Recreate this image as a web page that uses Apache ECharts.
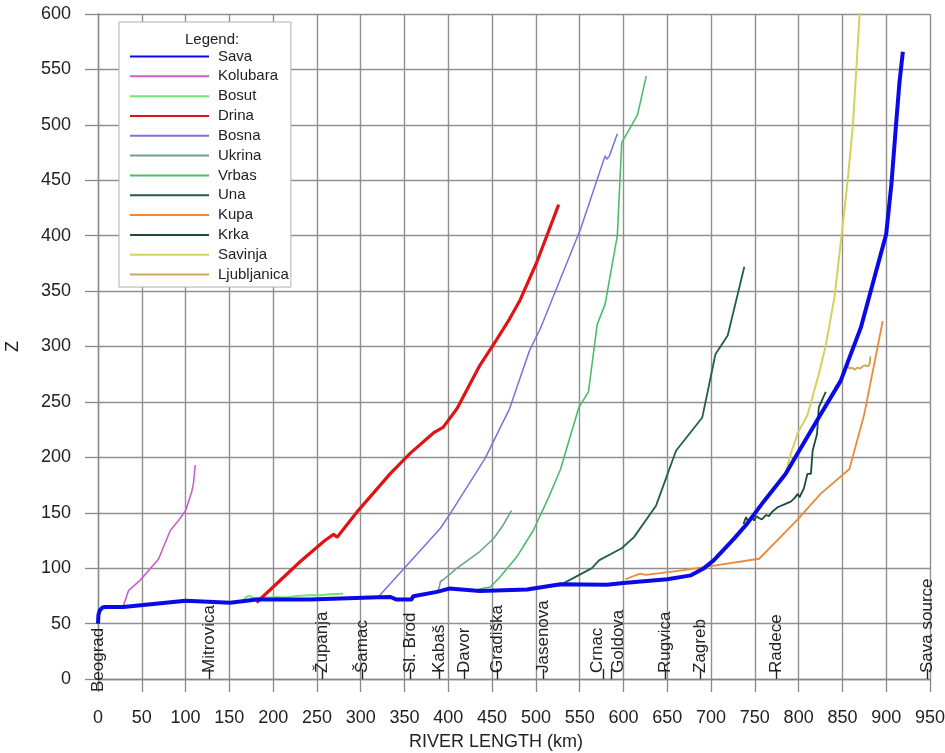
<!DOCTYPE html>
<html>
<head>
<meta charset="utf-8">
<script src="https://cdn.jsdelivr.net/npm/echarts@6/dist/echarts.min.js"></script>
<style>html,body{margin:0;padding:0;background:#fff}#c{width:945px;height:753px}</style>
</head>
<body>
<div id="c"></div>
<script>
// ---- data (km, elevation Z) ----
const sava = [[0,50],[0.5,58],[2,62],[5,64.5],[8,65],[29,65],[100,70.5],[151,68.7],[181,71.7],[242,71.7],[320,73.8],[334,74],[341,71.7],[358,71.7],[360,74.7],[387,78.6],[401,81.6],[436,79.5],[490,80.7],[528,85.5],[581,85],[600,86.6],[650,90],[677,93.5],[692,100],[703,107],[726,126.4],[741,140],[760,160],[785,185],[823,236],[848,269],[871,317],[900,401.5],[906,447],[911,498],[915,537],[919,566]];
const kolubara = [[28.5,65],[35,80],[48,89],[69,108],[82.5,134],[92,143],[100,152],[107,169],[109,176.5],[111,193]];
const bosut = [[166,70],[169,74],[173,75],[178,73],[185,72.6],[195,73.5],[204,74],[215,73.5],[228,75],[242,75.6],[255,75.5],[265,76.5],[280,77]];
const drina = [[181,69],[200,83],[231,106],[259,125],[269,130.5],[273,128],[296,151],[334,185.5],[357,204],[383,222],[394,227],[410,244],[436,283],[455,306],[470,325],[482,342],[501,376],[526,428]];
const bosna = [[320,74],[391,136],[402,149],[442,199],[470,244],[493,297],[505,316],[551,406],[579,472],[581,469],[584,472],[593,492]];
const ukrina = [[388,79],[390,84],[391,88],[395,90],[410,100],[436,115],[452,127],[462,138],[472,152]];
const vrbas = [[434,81],[448,83],[459,92],[478,110],[497,134],[514,163],[528,189],[549,245],[560,259],[570,320],[579,338],[593,400],[598,484],[616,509],[626,544]];
const una = [[526,84],[564,100],[572,107],[598,118],[612,128],[637,156],[660,206],[690,236],[705,293],[719,310],[738,372]];
const kupa = [[602,90],[619,95],[625,94],[663,97.5],[692,101],[755,108.5],[799,144],[825,167],[858,189.5],[875,239],[896,323]];
const krka = [[737,140],[740,146],[743,141],[746,147],[749,143],[752,147],[755,145],[758,144],[763,148],[766,147],[770,151],[776,155],[785,158],[791,160],[795,163],[799,167],[801,164],[806,172],[810,185],[814,185],[816,206],[821,221],[823,245],[831,259]];
const savinja = [[785,185],[791,203],[799,222],[810,238],[823,275],[831,301],[841,345],[849,400],[856,450],[862,500],[866,552],[870,605]];
const ljubljanica = [[841,262],[844,265],[847,268],[850,273],[853,280],[856,283],[858,280],[861,281],[864,279],[867,281],[870,280],[873,282],[876,283],[879,282],[881,284],[882,291]];

// towns along the Sava: tick position (km) and label position (km)
const towns = ['Beograd','Mitrovica','Županja','Šamac','Sl. Brod','Kabaš','Davor','Gradiška','Jasenova','Crnac','Goldova','Rugvica','Zagreb','Radece','Sava source'];
const townKm = [0,127,256,302,357,390,418,456,508,577,586,648,688,774,947];
const townLabelKm = [0,127,256,302,357,390,418,456,508,570,594,648,688,774,947];

const names = ['Sava','Kolubara','Bosut','Drina','Bosna','Ukrina','Vrbas','Una','Kupa','Krka','Savinja','Ljubljanica'];
const datasets = [sava,kolubara,bosut,drina,bosna,ukrina,vrbas,una,kupa,krka,savinja,ljubljanica];
const colors = ['#0a0ae6','#cc5fcc','#6ee66e','#e01414','#7474dc','#6f9f9c','#4cbc6c','#22603f','#ec8a3a','#1c4a3c','#d2d25c','#cfa85a'];
const widths = [4,1.6,2,3.2,1.5,1.6,1.6,1.8,1.8,1.8,2,2];

const FONT = 'Liberation Sans, Arial, sans-serif';
const chart = echarts.init(document.getElementById('c'));

const series = names.map((n,i)=>({
  name:n, type:'line', data:datasets[i], symbol:'none', smooth:false,
  z: i===0 ? 5 : 3,
  lineStyle:{color:colors[i], width:widths[i]}, itemStyle:{color:colors[i]},
  animation:false, clip:true
}));

const labelFor = function(v){
  const i = townLabelKm.indexOf(v);
  return i < 0 ? '' : towns[i];
};

chart.setOption({
  animation:false,
  backgroundColor:'#fff',
  title:{text:'Legend:', left:185, top:32, padding:0,
    textStyle:{fontFamily:FONT, fontSize:15, fontWeight:'normal', color:'#222'}},
  legend:{
    orient:'vertical', left:119, top:22,
    padding:[27,2,5,10], itemGap:4.82, itemWidth:79, itemHeight:14,
    backgroundColor:'#fff', borderColor:'#b0b0b0', borderWidth:1,
    itemStyle:{opacity:0, borderWidth:0},
    textStyle:{fontFamily:FONT, fontSize:15, color:'#222', padding:[0,0,0,4]},
    data:names
  },
  grid:{left:98, right:15, top:14, bottom:74, containLabel:false, outerBoundsMode:'none'},
  xAxis:[{
    type:'value', min:0, max:950, interval:50, position:'bottom',
    name:'RIVER LENGTH (km)', nameLocation:'middle', nameGap:54,
    nameTextStyle:{fontFamily:FONT, fontSize:18, color:'#222', padding:[0,36,0,0]},
    axisLine:{show:true, onZero:false, lineStyle:{color:'#888', width:1.3}},
    axisTick:{show:true, length:13, lineStyle:{color:'#888', width:1.3}},
    axisLabel:{fontFamily:FONT, fontSize:18, color:'#222', margin:30},
    splitLine:{show:true, lineStyle:{color:'#909090', width:1.4}}
  },{
    // town ticks (short dashes) and labels, except Beograd
    type:'value', min:0, max:950, position:'bottom', offset:13,
    axisLine:{show:false}, splitLine:{show:false},
    axisTick:{show:true, inside:true, length:10, customValues:townKm.slice(1),
      lineStyle:{color:'#222', width:1.4}},
    axisLabel:{show:true, inside:true, rotate:90, margin:19,
      customValues:townLabelKm.slice(1),
      fontFamily:FONT, fontSize:17, color:'#222', formatter:labelFor}
  },{
    // Beograd label (no dash)
    type:'value', min:0, max:950, position:'bottom', offset:13,
    axisLine:{show:false}, splitLine:{show:false}, axisTick:{show:false},
    axisLabel:{show:true, inside:true, rotate:90, margin:0,
      customValues:townLabelKm.slice(0,1),
      fontFamily:FONT, fontSize:17, color:'#222', formatter:labelFor}
  }],
  yAxis:{
    type:'value', min:0, max:600, interval:50,
    name:'Z', nameLocation:'middle', nameGap:76,
    nameTextStyle:{fontFamily:FONT, fontSize:18, color:'#222'},
    axisLine:{show:true, lineStyle:{color:'#888', width:1.3}},
    axisTick:{show:true, length:13, lineStyle:{color:'#888', width:1.3}},
    axisLabel:{fontFamily:FONT, fontSize:18, color:'#222', margin:27},
    splitLine:{show:true, lineStyle:{color:'#909090', width:1.4}}
  },
  series:series
});
</script>
</body>
</html>
